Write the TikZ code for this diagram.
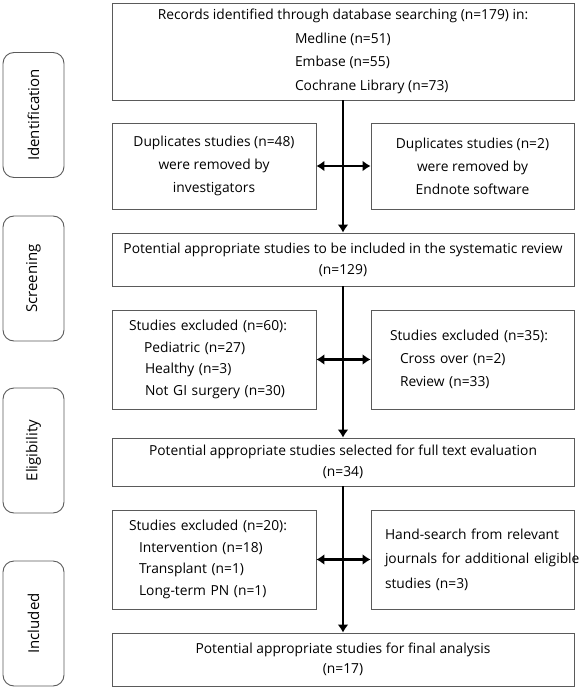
\documentclass[tikz,border=0pt]{standalone}
\usepackage{fontspec}
\setmainfont{Open Sans}
\usepackage{xcolor}
\usetikzlibrary{arrows.meta}

\definecolor{boxgray}{HTML}{5A5A5A}

\tikzset{
    wide/.style={draw=boxgray, line width=0.9pt, minimum width=462pt, inner sep=0pt, align=center},
    half/.style={draw=boxgray, line width=0.9pt, minimum width=204pt, minimum height=99pt, inner sep=0pt},
    stage/.style={draw=boxgray, line width=0.9pt, rounded corners=11pt, rotate=90,
        minimum width=125pt, minimum height=61pt, inner sep=0pt, font=\fontsize{15}{18}\selectfont},
    flow/.style={line width=2.8pt, -{Latex[length=8pt,width=11pt]}},
    both/.style={line width=2.8pt, {Latex[length=8pt,width=11pt]}-{Latex[length=8pt,width=11pt]}}
}

\begin{document}
\begin{tikzpicture}[x=1pt, y=-1pt, font=\fontsize{13.8}{22}\selectfont]
    \useasboundingbox (0,0) rectangle (579,690);

    % Stage labels on the left
    \node[stage] (ident) at (33.5,115) {Identification};
    \node[stage] (screening) at (33.5,278.5) {Screening};
    \node[stage] (eligibility) at (33.5,450.5) {Eligibility};
    \node[stage] (included) at (33.5,623.5) {Included};

    % Identification
    \node[wide, minimum height=97pt, font=\fontsize{13.8}{23.7}\selectfont] (records) at (343,51.5)
        {Records identified through database searching (n=179) in:\\
         \makebox[96pt][l]{Medline (n=51)}\\
         \makebox[96pt][l]{Embase (n=55)}\\
         \makebox[96pt][l]{Cochrane Library (n=73)}};
    \node[half, minimum height=86pt, align=center, font=\fontsize{13.8}{23}\selectfont] (dupInv) at (214,166)
        {Duplicates studies (n=48)\\ were removed by\\ investigators};
    \node[half, minimum width=203pt, minimum height=86pt, align=center, font=\fontsize{13.8}{23}\selectfont] (dupEnd) at (472.5,166)
        {Duplicates studies (n=2)\\ were removed by\\ Endnote software};

    % Screening
    \node[wide, minimum height=53pt, font=\fontsize{13.8}{21}\selectfont] (review) at (343,259.5)
        {Potential appropriate studies to be included in the systematic review\\ (n=129)};
    \node[half, text width=170pt, inner xsep=17pt, align=left, font=\fontsize{13.8}{21.7}\selectfont] (exclA) at (214,359.5)
        {Studies excluded (n=60):\\
         \hspace*{15pt}Pediatric (n=27)\\
         \hspace*{16pt}Healthy (n=3)\\
         \hspace*{16pt}Not GI surgery (n=30)};
    \node[half, minimum width=203pt, text width=165pt, inner xsep=19pt, align=left, font=\fontsize{13.8}{23}\selectfont] (exclB) at (472.5,359.5)
        {Studies excluded (n=35):\\
         \hspace*{10pt}Cross over (n=2)\\
         \hspace*{10pt}Review (n=33)};

    % Eligibility
    \node[wide, minimum height=48pt, font=\fontsize{13.8}{21}\selectfont] (fulltext) at (343,462)
        {Potential appropriate studies selected for full text evaluation\\ (n=34)};
    \node[half, text width=170pt, inner xsep=17pt, align=left, font=\fontsize{13.8}{21.7}\selectfont] (exclC) at (214,559.5)
        {Studies excluded (n=20):\\
         \hspace*{10pt}Intervention (n=18)\\
         \hspace*{10pt}Transplant (n=1)\\
         \hspace*{10pt}Long-term PN (n=1)};
    \node[half, minimum width=203pt, text width=175pt, inner xsep=14pt, align=left, font=\fontsize{13.8}{24.5}\selectfont] (hand) at (472.5,559.5)
        {Hand-search from relevant\\ \mbox{journals for additional eligible}\\ studies (n=3)};

    % Included
    \node[wide, minimum height=53pt, font=\fontsize{13.8}{20}\selectfont] (final) at (343,659.5)
        {Potential appropriate studies for final analysis\\ (n=17)};

    % Arrows
    \draw[flow] (records.south) -- (review.north);
    \draw[both] (dupInv.east) -- (dupEnd.west);
    \draw[flow] (review.south) -- (fulltext.north);
    \draw[both] (exclA.east) -- (exclB.west);
    \draw[flow] (fulltext.south) -- (final.north);
    \draw[both] (exclC.east) -- (hand.west);
\end{tikzpicture}
\end{document}
